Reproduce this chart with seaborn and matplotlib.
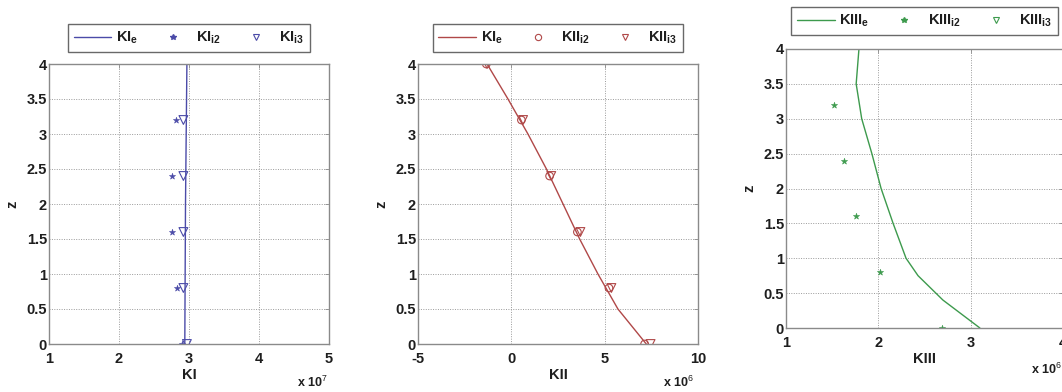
import numpy as np
import pandas as pd
import matplotlib
matplotlib.use("Agg")
import matplotlib.pyplot as plt
import seaborn as sns

# ---------------- data ----------------
# Panel 1 (KI)
z_line1 = [0.0, 1.0, 2.0, 3.0, 4.0]
KI_e = [2.94e7, 2.945e7, 2.95e7, 2.96e7, 2.97e7]
z_pts = [0.0, 0.8, 1.6, 2.4, 3.2]
KI_i2 = [2.90e7, 2.83e7, 2.76e7, 2.76e7, 2.82e7]
KI_i3 = [2.97e7, 2.92e7, 2.92e7, 2.92e7, 2.92e7]

# Panel 2 (KII)
z_line2 = [0.0, 0.5, 1.0, 1.5, 2.0, 2.5, 3.0, 3.5, 4.0]
KII_e = [7.23e6, 5.71e6, 4.64e6, 3.66e6, 2.77e6, 1.88e6, 0.89e6, -0.18e6, -1.3e6]
z_pts2 = [0.0, 0.8, 1.6, 2.4, 3.2, 4.0]
KII_i2 = [7.14e6, 5.23e6, 3.54e6, 2.05e6, 0.54e6, -1.34e6]
KII_i3 = [7.46e6, 5.36e6, 3.70e6, 2.14e6, 0.63e6, -1.30e6]

# Panel 3 (KIII)
z_line3 = [0.0, 0.4, 0.75, 1.0, 1.5, 2.0, 2.5, 3.0, 3.5, 4.0]
KIII_e = [3.10e6, 2.70e6, 2.43e6, 2.30e6, 2.16e6, 2.03e6, 1.93e6, 1.82e6, 1.76e6, 1.79e6]
KIII_i2 = [2.69e6, 2.02e6, 1.76e6, 1.63e6, 1.52e6]
KIII_i3 = []  # not visible in the cropped view

W, H = 1062, 392
fig = plt.figure(figsize=(W / 100, H / 100), dpi=100)
sns.set_style("white")
plt.rcParams['font.family'] = ['Liberation Sans', 'DejaVu Sans']
plt.rcParams['mathtext.fontset'] = 'custom'
plt.rcParams['mathtext.rm'] = 'Liberation Sans'
plt.rcParams['mathtext.it'] = 'Liberation Sans'

FS = 10.5
TXT = '#1e1e1e'
SPINE = '#8a8a8a'

def px_axes(left, top, right, bottom):
    return fig.add_axes([left / W, 1 - bottom / H, (right - left) / W, (bottom - top) / H])

def style(ax, xlim, xticks, scale, xlabel, exp, exp_xy):
    ax.set_xlim(*xlim)
    ax.set_ylim(0, 4)
    ax.set_xticks([t * scale for t in xticks])
    ax.set_xticklabels([f"{t:g}" for t in xticks], fontsize=FS, fontweight='bold', color=TXT)
    yt = np.arange(0, 4.01, 0.5)
    ax.set_yticks(yt)
    ax.set_yticklabels([f"{t:g}" for t in yt], fontsize=FS, fontweight='bold', color=TXT)
    ax.grid(True, linestyle=(0, (1, 1.5)), color='#9a9a9a', linewidth=0.7)
    for s in ax.spines.values():
        s.set_visible(True)
        s.set_color(SPINE)
        s.set_linewidth(1.0)
    ax.tick_params(axis='both', direction='in', length=3, width=0.6, top=True, right=True, colors=SPINE,
                   labelcolor=TXT)
    ax.tick_params(axis='x', pad=5.5)
    ax.tick_params(axis='y', pad=1.5)
    ax.set_xlabel(xlabel, fontsize=FS, fontweight='bold', labelpad=2, color=TXT)
    ax.set_ylabel('z', fontsize=FS, fontweight='bold', labelpad=5, color=TXT)
    ax.text(exp_xy[0], exp_xy[1], r'x 10$^{%d}$' % exp, transform=ax.transAxes,
            fontsize=FS - 1.5, fontweight='bold', ha='left', va='top', color=TXT)

def legend(ax, handles, labels, y):
    leg = ax.legend(handles, labels, loc='center', bbox_to_anchor=(0.5, y), ncol=3,
                    frameon=True, fancybox=False, edgecolor='#444444',
                    prop={'weight': 'bold', 'size': FS}, handlelength=2.6,
                    columnspacing=1.1, handletextpad=0.3, borderpad=0.4, labelcolor=TXT)
    leg.get_frame().set_linewidth(1.0)

def labs(base, subs):
    return [base[i] + r'$_{\mathregular{%s}}$' % s for i, s in enumerate(subs)]

# ---------- Panel 1 ----------
c1 = '#4b4ba8'
ax1 = px_axes(49, 64, 329, 344)
sns.lineplot(x=KI_e, y=z_line1, sort=False, estimator=None, color=c1, lw=1.0, ax=ax1)
sns.scatterplot(x=KI_i2, y=z_pts, marker='*', s=22, color=c1, edgecolor=c1, ax=ax1)
sns.scatterplot(x=KI_i3, y=z_pts, marker='v', s=40, facecolor='none', edgecolor=c1, linewidth=0.8, ax=ax1)
style(ax1, (1e7, 5e7), [1, 2, 3, 4, 5], 1e7, 'KI', 7, (0.885, -0.11))
h1 = [plt.Line2D([], [], color=c1, lw=1.0),
      plt.Line2D([], [], marker='*', ls='', color=c1, ms=4),
      plt.Line2D([], [], marker='v', ls='', mfc='none', mec=c1, ms=4.5, mew=0.8)]
legend(ax1, h1, labs(['KI', 'KI', 'KI'], ['e', 'i2', 'i3']), 1.093)

# ---------- Panel 2 ----------
c2 = '#b04848'
ax2 = px_axes(418, 64, 698, 344)
sns.lineplot(x=KII_e, y=z_line2, sort=False, estimator=None, color=c2, lw=1.0, ax=ax2)
sns.scatterplot(x=KII_i2, y=z_pts2, marker='o', s=30, facecolor='none', edgecolor=c2, linewidth=0.8, ax=ax2)
sns.scatterplot(x=KII_i3, y=z_pts2, marker='v', s=40, facecolor='none', edgecolor=c2, linewidth=0.8, ax=ax2)
style(ax2, (-5e6, 10e6), [-5, 0, 5, 10], 1e6, 'KII', 6, (0.875, -0.11))
h2 = [plt.Line2D([], [], color=c2, lw=1.0),
      plt.Line2D([], [], marker='o', ls='', mfc='none', mec=c2, ms=4.5, mew=0.8),
      plt.Line2D([], [], marker='v', ls='', mfc='none', mec=c2, ms=4.5, mew=0.8)]
legend(ax2, h2, labs(['KI', 'KII', 'KII'], ['e', 'i2', 'i3']), 1.093)

# ---------- Panel 3 ----------
c3 = '#3d9a4d'
ax3 = px_axes(786, 49, 1063, 328)
sns.lineplot(x=KIII_e, y=z_line3, sort=False, estimator=None, color=c3, lw=1.0, ax=ax3)
sns.scatterplot(x=KIII_i2, y=z_pts, marker='*', s=22, color=c3, edgecolor=c3, ax=ax3)
if len(KIII_i3):
    sns.scatterplot(x=KIII_i3, y=z_pts, marker='v', s=40, facecolor='none', edgecolor=c3, ax=ax3)
style(ax3, (1e6, 4e6), [1, 2, 3, 4], 1e6, 'KIII', 6, (0.885, -0.12))
h3 = [plt.Line2D([], [], color=c3, lw=1.0),
      plt.Line2D([], [], marker='*', ls='', color=c3, ms=4),
      plt.Line2D([], [], marker='v', ls='', mfc='none', mec=c3, ms=4.5, mew=0.8)]
legend(ax3, h3, labs(['KIII', 'KIII', 'KIII'], ['e', 'i2', 'i3']), 1.100)

fig.savefig('out.png', dpi=100)
